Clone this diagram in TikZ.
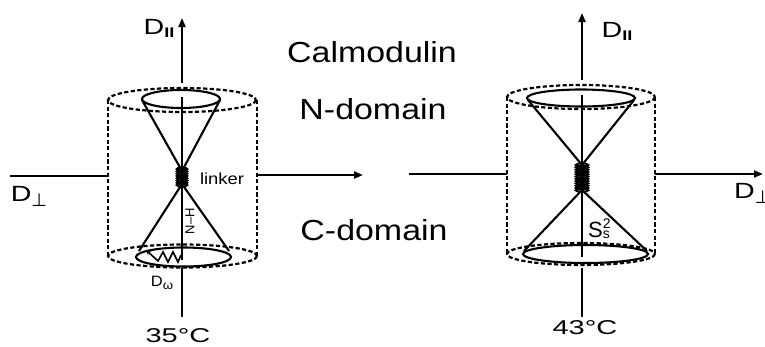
\documentclass[tikz,border=0pt]{standalone}
\usepackage{fontspec}
\setmainfont{Liberation Sans}
\newfontfamily\djv{DejaVu Sans}
\usetikzlibrary{arrows.meta}
\newcommand{\fs}[1]{\fontsize{#1}{#1}\selectfont}
\newcommand{\hx}[2]{\scalebox{#1}[1]{#2}}
\begin{document}
\begin{tikzpicture}[x=1pt,y=-1pt,
  solidln/.style={line width=2.1pt},
  dashln/.style={line width=2.2pt, dash pattern=on 4.2pt off 2.4pt},
  axisarrow/.style={line width=2pt, -{Triangle[length=9pt,width=7pt]}},
  coilln/.style={line width=1.9pt},
  lbl/.style={inner sep=0pt, anchor=center}]
\useasboundingbox (0,0) rectangle (765,346);

% ---------------- left model (35 C) ----------------
\coordinate (LtopA) at (182,83);
\coordinate (LtopTip) at (182,18);
\coordinate (LinA) at (182,97);
\coordinate (LinB) at (182,260);
\coordinate (LbotA) at (182,268);
\coordinate (LbotB) at (182,317);
\draw[dashln] (182,100) ellipse (74 and 12);
\draw[dashln] (182.5,256) ellipse (74.5 and 11.5);
\coordinate (LcylTL) at (108,100);
\coordinate (LcylBL) at (108,256);
\coordinate (LcylTR) at (257,100);
\coordinate (LcylBR) at (257,256);
\draw[dashln] (LcylTL) -- (LcylBL);
\draw[dashln] (LcylTR) -- (LcylBR);
\draw[solidln] (181,99) ellipse (39 and 9);
\draw[solidln] (183.5,257) ellipse (47.5 and 9.5);
\coordinate (LapexU) at (182,171);
\coordinate (LapexD) at (182,184);
\draw[solidln] (142,100) -- (LapexU) -- (220,100);
\draw[solidln] (139,251) -- (LapexD) -- (229,251);
\draw[axisarrow] (LtopA) -- (LtopTip);
\draw[solidln] (LinA) -- (LinB);
\draw[solidln] (LbotA) -- (LbotB);
\foreach \yy in {169,171.3,...,185.5} {\draw[coilln] (182,\yy) ellipse (5.3 and 1.6);}
% D omega zigzag
\draw[line width=1.6pt, -{Stealth[length=5pt,width=5pt]}]
  (181,255) -- (178,262) -- (173,252) -- (168,262) -- (163,252) -- (158,261) -- (146,250);

% horizontal axis
\coordinate (Lh0) at (10,176);
\draw[solidln] (Lh0) -- (LcylTL |- Lh0);
\coordinate (Mh0) at (257,175);
\coordinate (Mh1) at (363,175);
\draw[axisarrow] (Mh0) -- (Mh1);

% labels left
\node[lbl] (dparL) at (159,28) {\hx{1.3}{\fs{22}D\raisebox{-3pt}{\fs{14}\bfseries II}}};
\node[lbl] (dperL) at (29,196) {\hx{1.3}{\fs{22}D}\raisebox{-5pt}{\fs{18}\djv ⊥}};
\node[lbl] (linker) at (222,179) {\hx{1.15}{\fs{16}linker}};
\node[lbl, rotate=90] (nh) at (190,221) {\fs{13}N–H};
\node[lbl] (domega) at (162,283) {\hx{1.1}{\fs{15}D\raisebox{-3pt}{\fs{12}ω}}};
\node[lbl] (t35) at (178,336) {\hx{1.45}{\fs{20}35°C}};

% ---------------- centre text ----------------
\node[lbl] (calm) at (372,52) {\hx{1.17}{\fs{29}Calmodulin}};
\node[lbl] (ndom) at (373,109) {\hx{1.17}{\fs{29}N-domain}};
\node[lbl] (cdom) at (374,230) {\hx{1.17}{\fs{29}C-domain}};

% ---------------- right model (43 C) ----------------
\coordinate (RtopA) at (582,80);
\coordinate (RtopTip) at (582,13);
\coordinate (RinA) at (582,95);
\coordinate (RinB) at (582,257);
\coordinate (RbotA) at (582,268);
\coordinate (RbotB) at (582,317);
\draw[dashln] (581,97) ellipse (74 and 12);
\draw[dashln] (581,254) ellipse (74 and 11);
\coordinate (RcylTL) at (507,97);
\coordinate (RcylBL) at (507,254);
\coordinate (RcylTR) at (655,97);
\coordinate (RcylBR) at (655,254);
\draw[dashln] (RcylTL) -- (RcylBL);
\draw[dashln] (RcylTR) -- (RcylBR);
\draw[solidln] (581,98) ellipse (54 and 8.5);
\draw[solidln] (585.5,254) ellipse (62.5 and 9);
\coordinate (RapexU) at (582,165);
\coordinate (RapexD) at (582,190);
\draw[solidln] (528,100) -- (RapexU) -- (634,100);
\draw[solidln] (524,251) -- (RapexD) -- (647,251);
\draw[axisarrow] (RtopA) -- (RtopTip);
\draw[solidln] (RinA) -- (RinB);
\draw[solidln] (RbotA) -- (RbotB);
\foreach \yy in {165,167.3,...,190.5} {\draw[coilln] (582,\yy) ellipse (6.3 and 1.6);}

\coordinate (Rh0) at (409,174);
\coordinate (Rh1) at (763,174);
\draw[solidln] (Rh0) -- (RcylTL |- Rh0);
\draw[axisarrow] (RcylTR |- Rh1) -- (Rh1);

\node[lbl] (dparR) at (617,31) {\hx{1.3}{\fs{22}D\raisebox{-3pt}{\fs{14}\bfseries II}}};
\node[lbl, anchor=west] (dperR) at (734,193) {\hx{1.3}{\fs{22}D}\raisebox{-5pt}{\fs{18}\djv ⊥}};
\node[lbl] (ss2) at (599,229) {\fs{22}S\makebox[0pt][l]{\raisebox{9pt}{\fs{14}2}}\raisebox{-1pt}{\fs{14}s}};
\node[lbl] (t43) at (585,328) {\hx{1.45}{\fs{20}43°C}};
\end{tikzpicture}
\end{document}
